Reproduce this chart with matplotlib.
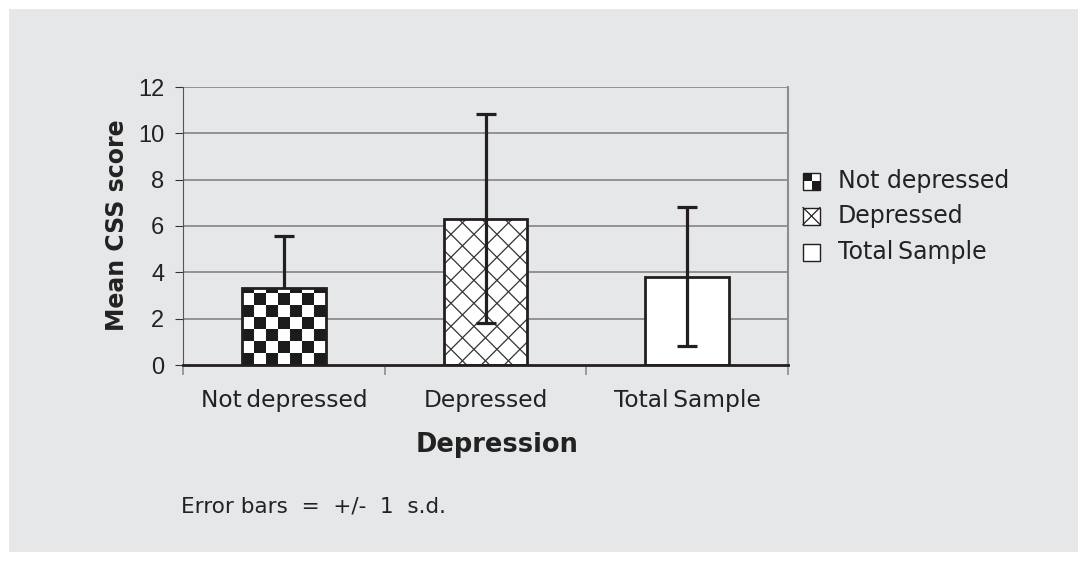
import numpy as np
import matplotlib
matplotlib.use("Agg")
import matplotlib.pyplot as plt
from matplotlib.patches import Rectangle
from matplotlib.lines import Line2D

categories = ["Not\u2009depressed", "Depressed", "Total\u2009Sample"]
legend_labels = ["Not depressed", "Depressed", "Total\u2009Sample"]
means = [3.32, 6.32, 3.82]
sds = [2.25, 4.50, 3.00]
yticks = [0, 2, 4, 6, 8, 10, 12]

W, H = 1087, 561
fig = plt.figure(figsize=(W / 100, H / 100), dpi=100, facecolor="white")
BG = "#e6e7e9"
DARK = "#231f20"
fig.patches.append(Rectangle((9 / W, 9 / H), (1078 - 9) / W, (552 - 9) / H,
                             transform=fig.transFigure, facecolor=BG,
                             edgecolor="none", zorder=-10))

ax = fig.add_axes([183 / W, (H - 365) / H, (788 - 183) / W, (365 - 87) / H])
ax.set_zorder(1)
ax.set_facecolor(BG)
ax.set_xlim(-0.5, 2.5)
ax.set_ylim(0, 12)

# grid
for v in yticks[1:]:
    ax.axhline(v, color="#8c8c8c", lw=1.3, zorder=0.5)

ax.spines["top"].set_visible(False)
ax.spines["right"].set_color("#8c8c8c")
ax.spines["right"].set_linewidth(1.5)
ax.spines["left"].set_color("#555555")
ax.spines["left"].set_linewidth(0.8)
ax.spines["bottom"].set_color(DARK)
ax.spines["bottom"].set_linewidth(2.0)
ax.spines["bottom"].set_zorder(5)

ax.set_yticks(yticks)
ax.set_yticklabels([str(v) for v in yticks], family="Liberation Sans",
                   fontsize=17, color="#222222")
ax.tick_params(axis="y", direction="out", length=6, width=0.8, color="#333333", pad=7.5)

x = np.arange(len(categories))
ax.set_xticks(x)
ax.set_xticklabels(categories, fontsize=16.8, color="#222222", family="DejaVu Sans")
ax.tick_params(axis="x", which="major", length=0, pad=17)
ax.set_xticks([-0.5, 0.5, 1.5, 2.5], minor=True)
ax.tick_params(axis="x", which="minor", direction="out", length=7, width=1.2, color="#8c8c8c")

ax.set_xlabel("Depression", fontsize=18.5, fontweight="bold", color="#222222")
ax.xaxis.set_label_coords((497 - 183) / 605, -(445 - 365) / 278, transform=ax.transAxes)
ax.xaxis.label.set_va("center")
ax.set_ylabel("Mean CSS score", fontsize=17, fontweight="bold", color="#222222")
ax.yaxis.set_label_coords(-(183 - 117) / 605, (365 - 225) / 278, transform=ax.transAxes)
ax.yaxis.label.set_va("center")

bw = 0.415
bars = ax.bar(x, means, width=bw, color=["white", "white", "white"],
              edgecolor="none", zorder=2)

fig.canvas.draw()
tr = ax.transData
inv = tr.inverted()

# checkerboard on bar 1
b = bars[0]
(x0p, y0p) = tr.transform((b.get_x(), 0))
(x1p, y1p) = tr.transform((b.get_x() + b.get_width(), b.get_height()))
cell = 12.0
nx = int(np.ceil((x1p - x0p) / cell)) + 1
ny = int(np.ceil((y1p - y0p) / cell)) + 1
ii, jj = np.indices((ny, nx))
board = ((ii + jj) % 2).astype(float)
ex0 = b.get_x()
ex1 = inv.transform((x0p + nx * cell, y0p))[0]
ey1 = inv.transform((x0p, y0p + ny * cell))[1]
im = ax.imshow(board, cmap=matplotlib.colors.ListedColormap(["#1c1c1c", "#ffffff"]),
               extent=[ex0, ex1, 0, ey1], origin="lower", aspect="auto",
               interpolation="bilinear", zorder=2.1)
im.set_clip_path(b)
ax.set_xlim(-0.5, 2.5)
ax.set_ylim(0, 12)

# diagonal cross hatch on bar 2
b = bars[1]
(x0p, y0p) = tr.transform((b.get_x(), 0))
(x1p, y1p) = tr.transform((b.get_x() + b.get_width(), b.get_height()))
hgt = y1p - y0p
sp = 23.0
k = -hgt
while k < (x1p - x0p) + sp:
    for (pa, pb) in [((x0p + k, y0p), (x0p + k + hgt, y1p)),
                     ((x0p + k, y1p), (x0p + k + hgt, y0p))]:
        da = inv.transform(pa)
        db = inv.transform(pb)
        ln = Line2D([da[0], db[0]], [da[1], db[1]], color="#333333", lw=0.9, zorder=2.2)
        ax.add_line(ln)
        ln.set_clip_path(b)
    k += sp

# bar outlines
for bb in bars:
    ax.add_patch(Rectangle((bb.get_x(), 0), bb.get_width(), bb.get_height(),
                           facecolor="none", edgecolor=DARK, lw=2.0, zorder=2.5))

# error bars
for i in range(len(categories)):
    z = 1.5 if i == 0 else 3
    ax.errorbar(x[i], means[i], yerr=sds[i], fmt="none", ecolor=DARK,
                elinewidth=2.3, capsize=7, capthick=2.3, zorder=z)

ax.set_xlim(-0.5, 2.5)
ax.set_ylim(0, 12)

# legend (drawn in figure pixel coordinates)
def px(xp, yp):
    return xp / W, 1 - yp / H

box = 17
rows = [181, 216, 252]
lx = 803
for r, lab in zip(rows, legend_labels):
    bx, by = px(lx, r + box / 2)
    fig.patches.append(Rectangle((bx, by), box / W, box / H, transform=fig.transFigure,
                                 facecolor="white", edgecolor=DARK, lw=1.0, zorder=3))
    tx, ty = px(838, r)
    fig.text(tx, ty, lab, fontsize=17, va="center", ha="left", color="#222222")
# checker legend swatch
r = rows[0]
h2 = box / 2
for (dx, dy) in [(0, 0), (h2, h2)]:
    bx, by = px(lx + dx, r - box / 2 + dy + h2)
    fig.patches.append(Rectangle((bx, by), h2 / W, h2 / H, transform=fig.transFigure,
                                 facecolor="#1c1c1c", edgecolor="none", zorder=3.5))
# X legend swatch
r = rows[1]
for (ya, yb) in [(r - box / 2, r + box / 2), (r + box / 2, r - box / 2)]:
    xa, ya2 = px(lx, ya)
    xb, yb2 = px(lx + box, yb)
    fig.lines.append(Line2D([xa, xb], [ya2, yb2], transform=fig.transFigure,
                            color=DARK, lw=0.9, zorder=4))

fx, fy = px(181, 507)
fig.text(fx, fy, "Error bars  =  +/-  1  s.d.", fontsize=15.5, va="center", ha="left",
         color="#222222")

fig.savefig("out.png", dpi=100, facecolor="white")
